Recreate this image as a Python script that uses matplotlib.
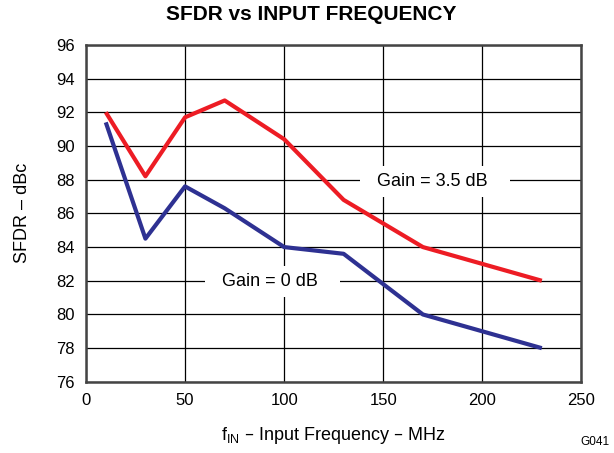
import matplotlib.pyplot as plt

plt.rcParams['font.family'] = ['Liberation Sans', 'DejaVu Sans']

# input frequency (MHz) and SFDR (dBc) for the two gain settings
freq_mhz = [10, 30, 50, 70, 100, 130, 170, 230]
sfdr_gain_35 = [92.0, 88.2, 91.7, 92.7, 90.4, 86.8, 84.0, 82.0]
sfdr_gain_0 = [91.4, 84.5, 87.6, 86.3, 84.0, 83.6, 80.0, 78.0]

x_ticks = [0, 50, 100, 150, 200, 250]
y_ticks = list(range(76, 97, 2))

fig = plt.figure(figsize=(6.14, 4.53), dpi=100)
ax = fig.add_axes([0.140, 0.157, 0.807, 0.744])

ax.plot(freq_mhz, sfdr_gain_35, color='#ED1C24', lw=3, solid_capstyle='butt', zorder=3)
ax.plot(freq_mhz, sfdr_gain_0, color='#2E3192', lw=3, solid_capstyle='butt', zorder=3)

ax.set_xlim(0, 250)
ax.set_ylim(76, 96)
ax.set_xticks(x_ticks)
ax.set_yticks(y_ticks)
ax.grid(True, color='black', lw=0.9)
ax.set_axisbelow(True)
ax.tick_params(length=0, labelsize=12, pad=8)

for s in ax.spines.values():
    s.set_color('#444444')
    s.set_linewidth(1.8)

# curve labels sit on white boxes that break the gridlines
box = dict(facecolor='white', edgecolor='none', boxstyle='square,pad=0.4')
ax.text(176, 87.9, '  Gain = 3.5 dB   ', fontsize=13, ha='center', va='center',
        bbox=box, zorder=4)
ax.text(94, 81.95, '  Gain = 0 dB   ', fontsize=13, ha='center', va='center',
        bbox=box, zorder=4)

ax.set_xlabel(r'f$_{\mathregular{IN}}$ – Input Frequency – MHz', fontsize=13, labelpad=12)
ax.set_ylabel('SFDR – dBc', fontsize=13, labelpad=18)
fig.text(0.507, 0.968, 'SFDR vs INPUT FREQUENCY', fontsize=15, fontweight='bold',
         ha='center', va='center')
fig.text(0.993, 0.012, 'G041', fontsize=8.5, ha='right', va='bottom')

fig.savefig('out.png', dpi=100)
